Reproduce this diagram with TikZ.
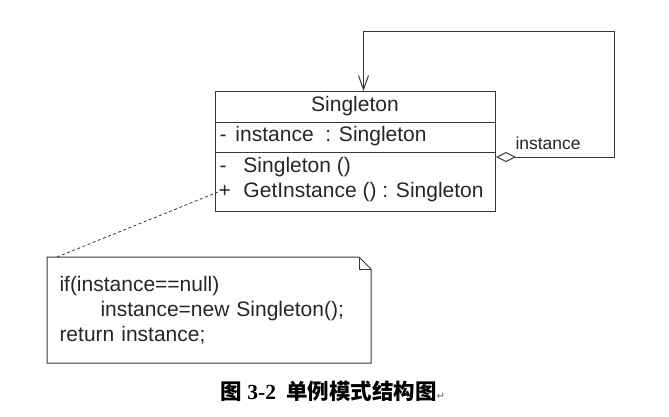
\documentclass[tikz,border=0pt]{standalone}
\usepackage{fontspec}
\setmainfont{Liberation Sans}
\newfontfamily\cjk{Noto Sans CJK SC}
\newfontfamily\capserif{Liberation Serif}
\newfontfamily\symfont{DejaVu Sans}
\usepackage{xcolor}
\usepackage{tikz}
\usetikzlibrary{arrows.meta,positioning}
\definecolor{umlline}{rgb}{0.22,0.22,0.22}
\definecolor{umltext}{rgb}{0.15,0.15,0.15}
\newcommand{\vis}[2][25pt]{\makebox[#1][l]{#2}}

\begin{document}
\begin{tikzpicture}[x=1pt,y=-1pt,line width=1pt,draw=umlline,
   txt/.style={inner sep=0pt,text=umltext,font=\fontsize{21}{24}\selectfont},
   member/.style={txt,anchor=west},
   notebox/.style={anchor=north west,text width=299pt,inner xsep=12pt,minimum height=105pt,
               align=left,text=umltext,font=\fontsize{21}{25}\selectfont}]
  \useasboundingbox (0,0) rectangle (669,416);
  % class box
  \node[draw,anchor=north west,minimum width=280pt,minimum height=120pt,inner sep=0pt] (cls) at (215,91) {};
  \node[txt] (clsname) at (355,106) {Singleton};
  \node[member] (attr) at (219,136) {\vis[16pt]{-}instance\ \ : Singleton};
  \node[member] (ctor) at (219,167) {\vis[24pt]{-}Singleton ()};
  \node[member] (getinst) at (218,192) {\vis{+}GetInstance () : Singleton};
  \draw ([yshift=-31pt]cls.north west) -- ([yshift=-31pt]cls.north east);
  \draw ([yshift=-61pt]cls.north west) -- ([yshift=-61pt]cls.north east);
  % self aggregation
  \coordinate (loopcorner) at (614,31);
  \draw[{Diamond[open,length=20pt,width=10pt]}-{Straight Barb[length=14pt,width=10pt]}]
    ([yshift=-66pt]cls.north east) -| (loopcorner) -| ([xshift=8pt]cls.north);
  \node[txt,anchor=west,font=\fontsize{17.5}{20}\selectfont] (role) at (515,143) {instance};
  % note
  \node[notebox] (note) at (47,257) {if(instance==null)\\\hspace*{41pt}instance=new Singleton();\\return instance;\\[-2pt]};
  \draw (note.north west) -- ([xshift=-12pt]note.north east) -- ([yshift=-12pt]note.north east)
    -- (note.south east) -- (note.south west) -- cycle;
  \draw ([xshift=-12pt]note.north east) |- ([yshift=-12pt]note.north east);
  \draw[dash pattern=on 3pt off 2.5pt,line width=0.8pt] ([xshift=10pt]note.north west) -- (getinst.west);
  % caption
  \node[text=black] (caption) at (333,391) {\cjk\bfseries\fontsize{21.5}{24}\selectfont 图\hspace{5pt}{\capserif 3-2}\hspace{10pt}单例模式结构图{\symfont\color{gray}\fontsize{10}{12}\selectfont ↵}};
\end{tikzpicture}
\end{document}
